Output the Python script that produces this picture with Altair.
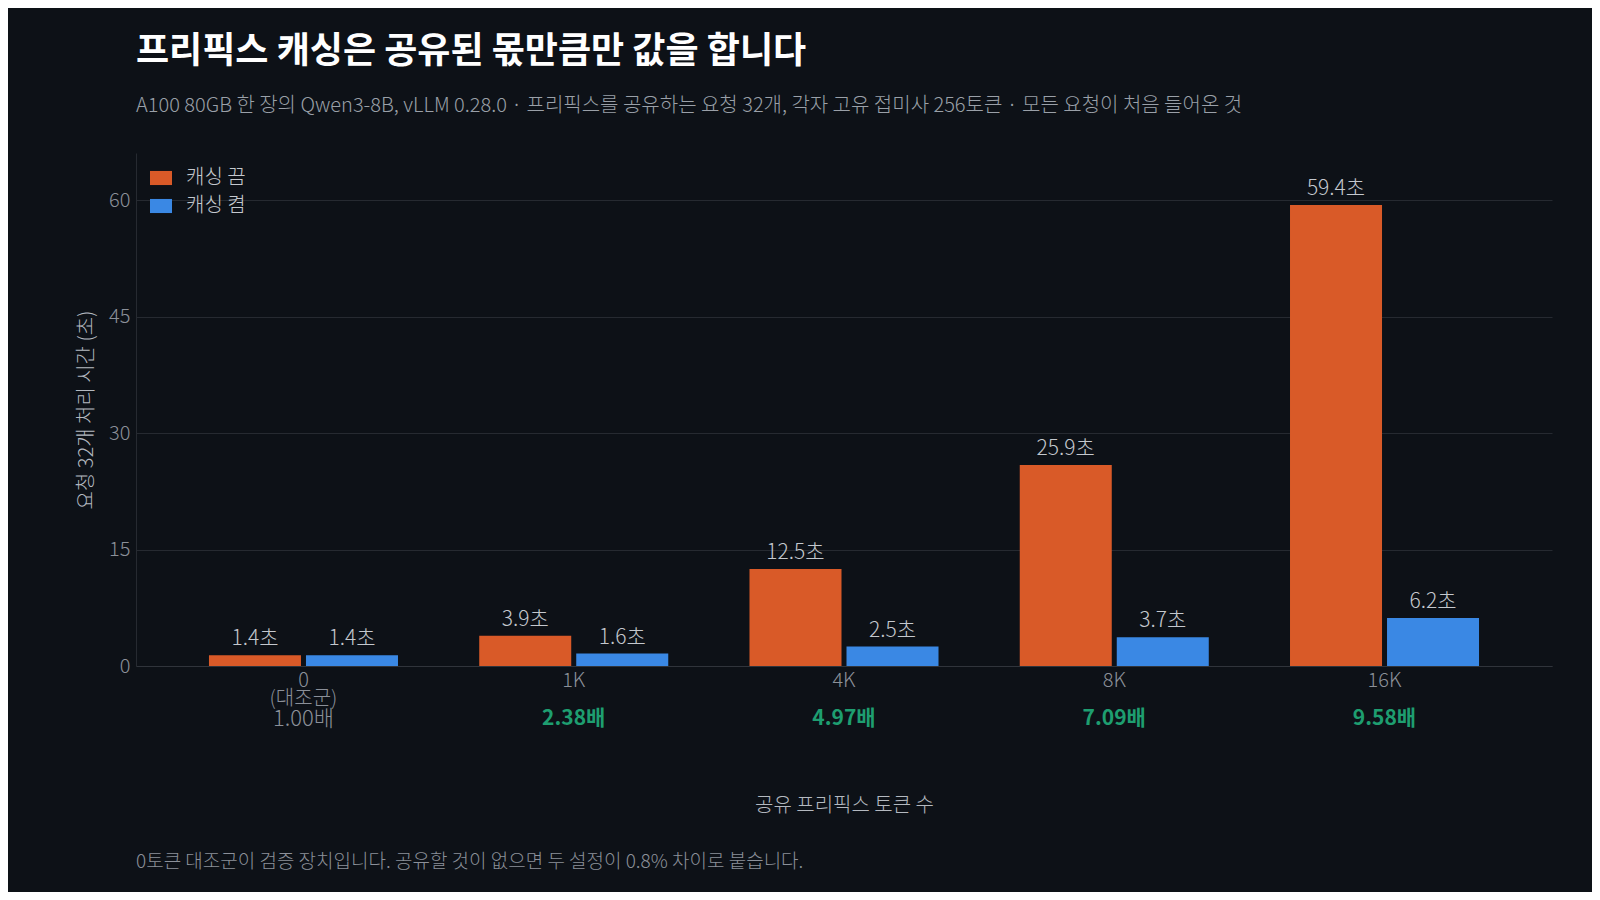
import altair as alt
import pandas as pd

# ---- data ----
prefixes = ["0", "1K", "4K", "8K", "16K"]
off_secs = [1.4, 3.9, 12.5, 25.9, 59.4]
on_secs = [1.4, 1.6, 2.5, 3.7, 6.2]
ratios = ["1.00배", "2.38배", "4.97배", "7.09배", "9.58배"]
is_control = [True, False, False, False, False]
modes = ["캐싱 끔", "캐싱 켬"]
mode_colors = ["#d95a28", "#3a88e4"]
y_ticks = [0, 15, 30, 45, 60]

title_text = "프리픽스 캐싱은 공유된 몫만큼만 값을 합니다"
subtitle_text = ("A100 80GB 한 장의 Qwen3-8B, vLLM 0.28.0 · 프리픽스를 공유하는 요청 32개, "
                 "각자 고유 접미사 256토큰 · 모든 요청이 처음 들어온 것")
x_title = "공유 프리픽스 토큰 수"
y_title = "요청 32개 처리 시간 (초)"
footnote = "0토큰 대조군이 검증 장치입니다. 공유할 것이 없으면 두 설정이 0.8% 차이로 붙습니다."

rows = []
for p, a, b in zip(prefixes, off_secs, on_secs):
    rows.append({"prefix": p, "mode": modes[0], "sec": a, "label": f"{a:.1f}초"})
    rows.append({"prefix": p, "mode": modes[1], "sec": b, "label": f"{b:.1f}초"})
df = pd.DataFrame(rows)
ratio_df = pd.DataFrame({"prefix": prefixes, "ratio": ratios, "control": is_control})
foot_df = pd.DataFrame({"t": [footnote]})

W, H = 1416, 513
FONT = "Noto Sans CJK KR"
LIGHT = 300
BG = "#0d1117"
TICK_C = "#8b9099"
LABEL_C = "#c4c8ce"
TITLE_C = "#b4b9c0"
GRID_C = "#262a31"

x_scale = alt.Scale(domain=prefixes, paddingInner=0.3006, paddingOuter=0.27)
x_axis = alt.Axis(
    title=x_title, titleY=139, titleBaseline="middle", titleFontSize=20,
    titleColor=TITLE_C, titleFont=FONT, titleFontWeight=LIGHT,
    labelExpr="datum.value == '0' ? ['0', '(대조군)'] : datum.value",
    labelLineHeight=18, labelFontSize=20, labelColor=TICK_C, labelFont=FONT,
    labelFontWeight=LIGHT, labelPadding=4, labelAngle=0, ticks=False,
    domainColor="#30343b", grid=False,
)
y_axis = alt.Axis(
    title=y_title, values=y_ticks, titleX=-50, titleY=H / 2, titleAngle=-90,
    titleBaseline="middle", titleAlign="center", titleFontSize=20,
    titleColor=TITLE_C, titleFont=FONT, titleFontWeight=LIGHT,
    labelFontSize=20, labelColor=TICK_C, labelFont=FONT, labelFontWeight=LIGHT,
    labelPadding=6, ticks=False, domainColor=GRID_C, gridColor=GRID_C, grid=True,
)
y_scale = alt.Scale(domain=[0, 66.1], nice=False, zero=True)

base = alt.Chart(df)

bars = base.mark_bar().encode(
    x=alt.X("prefix:N", scale=x_scale, axis=x_axis, sort=prefixes),
    xOffset=alt.XOffset("mode:N", sort=modes,
                        scale=alt.Scale(domain=modes, paddingInner=0.0515, paddingOuter=0)),
    y=alt.Y("sec:Q", scale=y_scale, axis=y_axis),
    color=alt.Color(
        "mode:N", sort=modes,
        scale=alt.Scale(domain=modes, range=mode_colors),
        legend=alt.Legend(
            title=None, orient="none", legendX=14, legendY=14, padding=0,
            symbolType="M-1,-0.64H1V0.64H-1Z", symbolSize=484, symbolStrokeWidth=0,
            labelFontSize=20, labelColor=LABEL_C, labelFont=FONT,
            labelFontWeight=LIGHT, labelOffset=14, rowPadding=7,
        ),
    ),
)

bar_labels = base.mark_text(
    baseline="alphabetic", dy=-10, fontSize=21, font=FONT, fontWeight=LIGHT, color=LABEL_C
).encode(
    x=alt.X("prefix:N", sort=prefixes),
    xOffset=alt.XOffset("mode:N", sort=modes),
    y=alt.Y("sec:Q"),
    text="label:N",
)

ratio_ctrl = alt.Chart(ratio_df).transform_filter("datum.control").mark_text(
    baseline="middle", fontSize=22, font=FONT, fontWeight=LIGHT, color=TICK_C
).encode(
    x=alt.X("prefix:N", sort=prefixes),
    y=alt.value(H + 53),
    text="ratio:N",
)
ratio_gain = alt.Chart(ratio_df).transform_filter("!datum.control").mark_text(
    baseline="middle", fontSize=21, font=FONT, color="#1e9e70", fontWeight="bold"
).encode(
    x=alt.X("prefix:N", sort=prefixes),
    y=alt.value(H + 53),
    text="ratio:N",
)

foot = alt.Chart(foot_df).mark_text(
    align="left", baseline="middle", fontSize=19, font=FONT, fontWeight=LIGHT, color=TICK_C
).encode(
    x=alt.value(0),
    y=alt.value(H + 196),
    text="t:N",
)

chart = alt.layer(bars, bar_labels, ratio_ctrl, ratio_gain, foot).properties(
    width=W, height=H,
    title=alt.TitleParams(
        text=title_text, subtitle=subtitle_text, anchor="start", frame="group",
        font=FONT, fontSize=36, fontWeight="bold", color="#ffffff",
        subtitleFont=FONT, subtitleFontSize=20, subtitleFontWeight=LIGHT,
        subtitleColor="#9aa0a8", subtitlePadding=25, offset=36,
    ),
    autosize=alt.AutoSizeParams(type="none"),
    padding={"left": 128, "top": 145, "right": 40, "bottom": 226},
    background=BG,
).configure(font=FONT).configure_view(stroke=None)

chart.save("out.html", embed_options={"renderer": "svg", "actions": False})
